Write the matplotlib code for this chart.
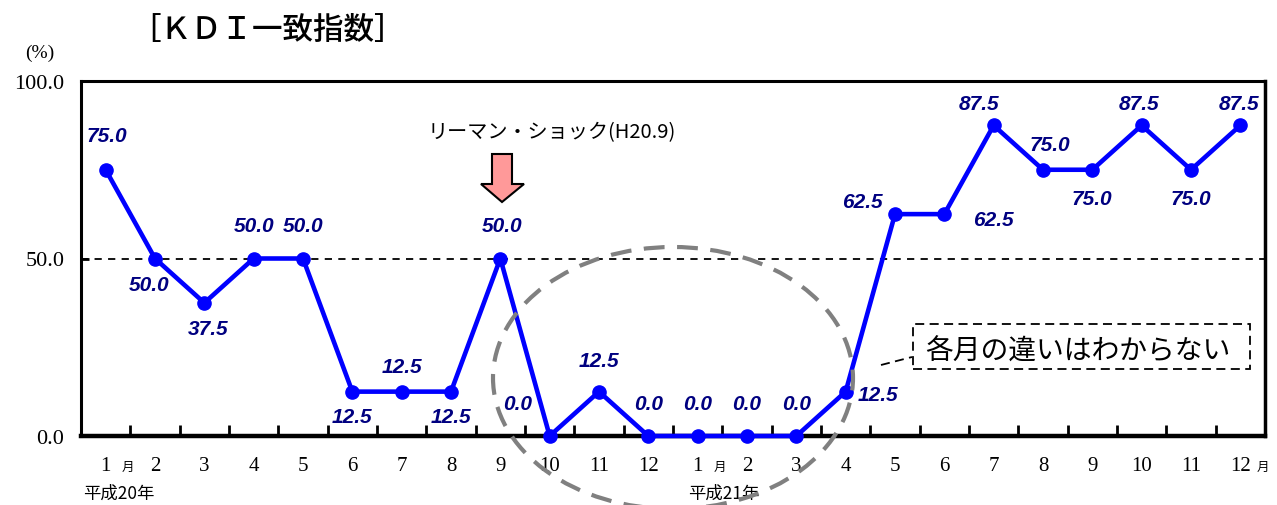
import numpy as np
import matplotlib.pyplot as plt
from matplotlib.patches import Ellipse, Rectangle, Polygon
from matplotlib.lines import Line2D

# data
month_labels = [str(m) for m in range(1, 13)] * 2
values = [75.0, 50.0, 37.5, 50.0, 50.0, 12.5, 12.5, 12.5, 50.0, 0.0, 12.5, 0.0,
          0.0, 0.0, 0.0, 12.5, 62.5, 62.5, 87.5, 75.0, 75.0, 87.5, 75.0, 87.5]
year_labels = ['平成20年', '平成21年']
# where each value label sits relative to its point (pixels, y up)
label_offsets = [(1, 34), (-6, -26), (4, -26), (0, 33), (0, 33), (0, -25), (0, 25), (0, -25),
                 (2, 33), (-32, 32), (0, 31), (0, 32), (0, 32), (0, 32), (0, 32), (32, -3),
                 (-33, 13), (49, -5), (-15, 22), (7, 25), (0, -29), (-3, 22), (0, -29), (-1, 22)]

JP = 'Noto Sans CJK JP'
SERIF = 'Liberation Serif'

W, H = 1277, 506
fig = plt.figure(figsize=(W / 100, H / 100), dpi=100)

def fx(x):
    return x / W

def fy(y):
    return 1 - y / H

ax = fig.add_axes([fx(81), fy(437), (1265 - 81) / W, (437 - 82) / H])
x = np.arange(len(values))
ax.plot(x, values, color='#0000FF', lw=3.3, marker='o', ms=9.5, zorder=3, clip_on=False)
ax.axhline(50, color='black', lw=1.3, ls=(0, (4, 3.5)), zorder=1)
ax.set_xlim(-0.5, len(values) - 0.5)
ax.set_ylim(0, 100)

ax.set_yticks([0, 50, 100])
ax.set_yticklabels(['0.0', '50.0', '100.0'])
ax.tick_params(axis='y', direction='in', length=6, width=2, pad=12, labelsize=16,
               labelfontfamily=SERIF)
ax.set_xticks(np.arange(0.5, len(values) - 1, 1))
ax.set_xticklabels([])
ax.tick_params(axis='x', direction='in', length=8, width=2)
for side, w in [('left', 2.2), ('top', 2.2), ('right', 2.5), ('bottom', 3.2)]:
    ax.spines[side].set_linewidth(w)

# month labels below the axis
tr = ax.get_xaxis_transform()
ylab = -(467 - 437) / 355
for i, m in enumerate(month_labels):
    ax.text(i, ylab, m, transform=tr, ha='center', va='center', family=SERIF, fontsize=15)
for i in [0, 12, 23]:
    ax.text(i + 0.45, ylab, '月', transform=tr, ha='center', va='center', family=JP, fontsize=9)
fig.text(fx(119), fy(494), year_labels[0], ha='center', va='center', family=JP, fontsize=12.5)
fig.text(fx(724), fy(494), year_labels[1], ha='center', va='center', family=JP, fontsize=12.5)

# value labels
for i, (v, (dx, dy)) in enumerate(zip(values, label_offsets)):
    ax.annotate(f'{v:.1f}', (i, v), xytext=(dx, dy), textcoords='offset pixels',
                ha='center', va='center', fontsize=15, fontweight='bold', fontstyle='italic',
                color='#000080', family='Liberation Sans', zorder=4)

# titles
fig.text(fx(130), fy(30), '［ＫＤＩ一致指数］', ha='left', va='center', family=JP,
         fontsize=22, fontweight='medium')
fig.text(fx(40), fy(53), '(%)', ha='center', va='center', family=SERIF, fontsize=14)
fig.text(fx(552), fy(133), 'リーマン・ショック(H20.9)', ha='center', va='center',
         family=JP, fontsize=14.5)

# pink arrow
arrow_px = [(492, 155), (512, 155), (512, 185), (524, 185), (502, 203), (481, 185), (492, 185)]
fig.add_artist(Polygon([(fx(a), fy(b)) for a, b in arrow_px], closed=True,
                       transform=fig.transFigure, facecolor='#FF9999', edgecolor='black', lw=1.5))

# grey dashed ellipse
fig.add_artist(Ellipse((fx(673), fy(379)), 360 / W, 262 / H, transform=fig.transFigure,
                       fill=False, edgecolor='#808080', lw=3, ls=(0, (5, 3)), zorder=5))

# callout box
fig.add_artist(Rectangle((fx(913), fy(370)), (1250 - 913) / W, (370 - 325) / H,
                         transform=fig.transFigure, fill=False, edgecolor='black',
                         lw=1.3, ls=(0, (5, 3))))
fig.add_artist(Line2D([fx(881), fx(912)], [fy(366), fy(358)], transform=fig.transFigure,
                      color='black', lw=1.3, ls=(0, (5, 3))))
fig.text(fx(1078), fy(352), '各月の違いはわからない', ha='center', va='center',
         family=JP, fontsize=20)

fig.savefig('out.png', dpi=100)
